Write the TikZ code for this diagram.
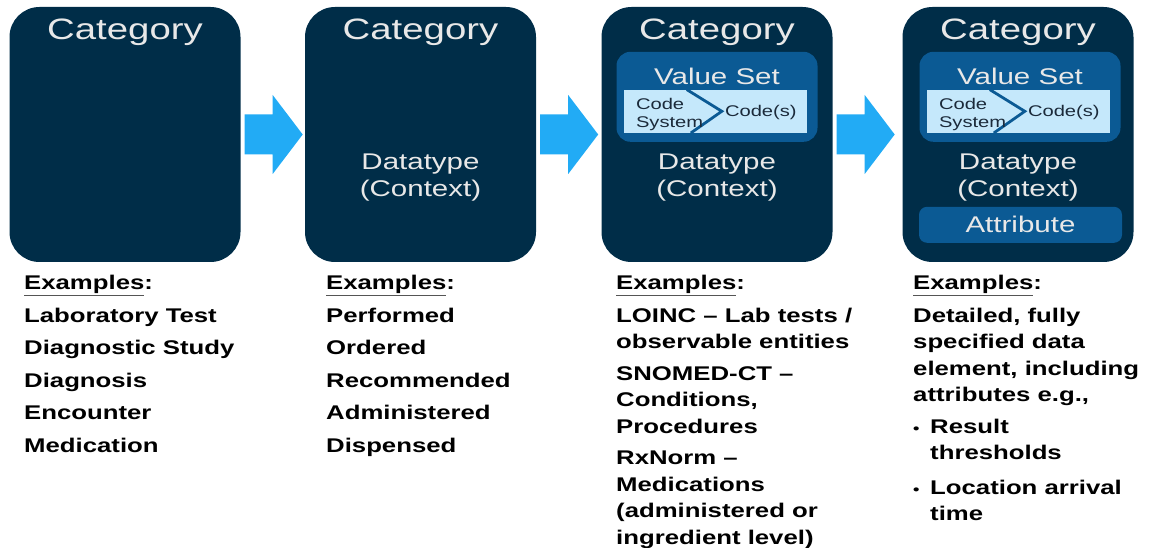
\documentclass[tikz,border=0pt]{standalone}
\usepackage{fontspec}
\setmainfont{Liberation Sans}[FakeStretch=1.3]
\usetikzlibrary{calc}

\definecolor{navy}{HTML}{002D48}
\definecolor{midblue}{HTML}{0B5A94}
\definecolor{paleblue}{HTML}{C5E8FB}
\definecolor{flowblue}{HTML}{22ABF5}
\definecolor{lightgrey}{HTML}{E8E8E8}
\definecolor{codetext}{HTML}{1B2A3A}
\definecolor{ulgrey}{HTML}{555555}

\newcommand\exhead{{\color{ulgrey}\underline{\color{black}Examples}}:}

\tikzset{
  catbox/.style={fill=navy, rounded corners=30pt, minimum width=231pt, minimum height=255pt, inner sep=0pt},
  vsbox/.style={fill=midblue, rounded corners=14pt, minimum width=201pt, minimum height=90pt, inner sep=0pt},
  codebox/.style={fill=paleblue, minimum width=183pt, minimum height=43pt, inner sep=0pt},
  attrbox/.style={fill=midblue, rounded corners=8pt, minimum width=203pt, minimum height=36pt, inner sep=0pt,
    text=lightgrey, font=\fontsize{22.7}{27}\selectfont},
  catlabel/.style={text=lightgrey, font=\fontsize{29.5}{32}\selectfont, anchor=base, inner sep=0pt},
  dtlabel/.style={text=lightgrey, font=\fontsize{22.7}{27}\selectfont, anchor=base, inner sep=0pt},
  codelabel/.style={text=codetext, font=\fontsize{15.5}{18}\selectfont, inner sep=0pt},
  chevron/.style={draw=midblue, line width=2.8pt},
  flow/.style={fill=flowblue},
  examples/.style={anchor=north west, align=left, inner sep=0pt, font=\bfseries\fontsize{19.8}{26.5}\selectfont},
}

\begin{document}
\begin{tikzpicture}[x=1pt,y=-1pt]
  \useasboundingbox (0,0) rectangle (1152,548);

  % the four stages
  \foreach \n/\x in {1/125,2/420.5,3/717,4/1018}{
    \node[catbox] (b\n) at (\x,134.5) {};
    \node[catlabel] (cat\n) at ($(b\n.north)+(0,33)$) {Category};
  }

  % block arrows between the stages
  \foreach \a/\b in {b1/b2,b2/b3,b3/b4}
    \fill[flow] ($(\a.east)+(4,-20)$) -- ++(28,0) -- ++(0,-19.5) -- ++(30,39.5)
      -- ++(-30,39.5) -- ++(0,-19.5) -- ++(-28,0) -- cycle;

  % datatype
  \foreach \n in {2,3,4}{
    \node[dtlabel] (dt\n) at ($(b\n.north)+(0,163)$) {Datatype};
    \node[dtlabel] (ctx\n) at ($(b\n.north)+(0,190)$) {(Context)};
  }

  % value sets
  \foreach \n/\dx in {3/0,4/2}{
    \node[vsbox] (vs\n) at ($(b\n.north)+(\dx,90)$) {};
    \node[dtlabel] (vsl\n) at ($(vs\n.north)+(0,33)$) {Value Set};
    \node[codebox] (cs\n) at ($(vs\n.center)+(-1.5,14.5)$) {};
    \draw[chevron] ($(cs\n.north west)+(63,0)$) -- ($(cs\n.west)+(98,0)$) -- ($(cs\n.south west)+(67,0)$);
    \node[codelabel, anchor=north west, align=left] (sys\n) at ($(cs\n.north west)+(12,8)$) {Code\\System};
    \node[codelabel, anchor=base west] (codes\n) at ($(cs\n.north west)+(101,27)$) {Code(s)};
  }

  % attribute
  \node[attrbox] (at4) at ($(b4.north)+(2.5,218)$) {Attribute};

  % examples
  \node[examples] (ex1) at (24,275) {\exhead\\[6pt]
    Laboratory Test\\[6pt]
    Diagnostic Study\\[6pt]
    Diagnosis\\[6pt]
    Encounter\\[6pt]
    Medication};
  \node[examples] (ex2) at (326,275) {\exhead\\[6pt]
    Performed\\[6pt]
    Ordered\\[6pt]
    Recommended\\[6pt]
    Administered\\[6pt]
    Dispensed};
  \node[examples] (ex3) at (616,275) {\exhead\\[6pt]
    LOINC – Lab tests /\\ observable entities\\[5pt]
    SNOMED-CT –\\ Conditions,\\ Procedures\\[5pt]
    RxNorm –\\ Medications\\ (administered or\\ ingredient level)};
  \node[examples] (ex4) at (913,275) {\exhead\\[6pt]
    Detailed, fully\\ specified data\\ element, including\\ attributes e.g.,\\[5pt]
    \makebox[17pt][l]{\fontsize{14}{14}\selectfont•}Result\\ \hspace*{17pt}thresholds\\[8pt]
    \makebox[17pt][l]{\fontsize{14}{14}\selectfont•}Location arrival\\ \hspace*{17pt}time};
\end{tikzpicture}
\end{document}
